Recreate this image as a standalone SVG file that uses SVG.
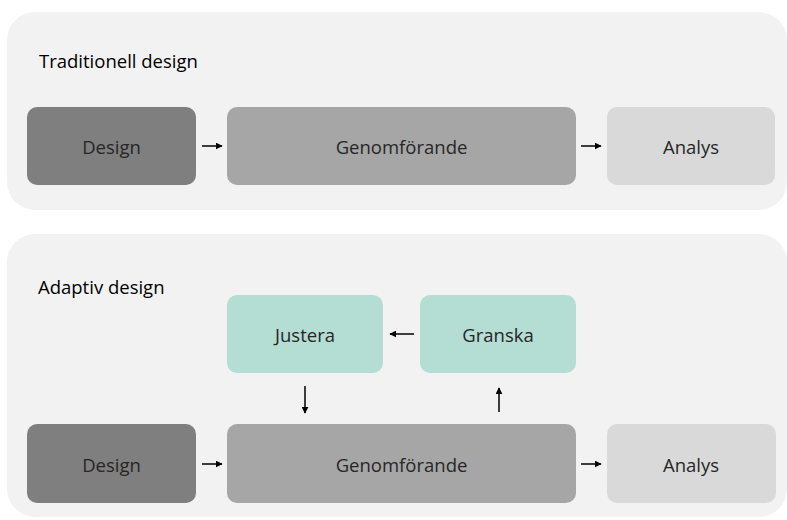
<svg xmlns="http://www.w3.org/2000/svg" width="787" height="520" viewBox="0 0 787 520">
<defs>
<style>
.panel{fill:#f2f2f2}
.t{font-family:"Open Sans","Liberation Sans",sans-serif;font-size:18.5px;fill:#262626;text-anchor:middle;dominant-baseline:central}
.h{font-family:"Open Sans","Liberation Sans",sans-serif;font-size:18.5px;fill:#000}
.d{fill:#7f7f7f}.g{fill:#a6a6a6}.a{fill:#d9d9d9}.j{fill:#b4ddd4}
.c{stroke:#000;stroke-width:1.5;fill:none;marker-end:url(#ah)}
</style>
<marker id="ah" viewBox="0 0 10 10" refX="9" refY="5" markerWidth="7" markerHeight="7" orient="auto" markerUnits="userSpaceOnUse"><path d="M0,0 L10,5 L0,10 z" fill="#000"/></marker>
</defs>
<rect class="panel" x="7" y="12" width="780" height="198" rx="28"/>
<rect class="panel" x="7" y="234" width="780" height="283" rx="28"/>
<text class="h" x="39" y="68">Traditionell design</text>
<text class="h" x="38" y="294">Adaptiv design</text>
<g id="design1"><rect class="d" x="27" y="107" width="169" height="78" rx="10"/><text class="t" x="111.5" y="146">Design</text></g>
<g id="genom1"><rect class="g" x="227" y="107" width="349" height="78" rx="10"/><text class="t" x="401.5" y="146">Genomförande</text></g>
<g id="analys1"><rect class="a" x="607" y="107" width="168" height="78" rx="10"/><text class="t" x="691" y="146">Analys</text></g>
<g id="justera"><rect class="j" x="227" y="295" width="156" height="78" rx="10"/><text class="t" x="305" y="334">Justera</text></g>
<g id="granska"><rect class="j" x="420" y="295" width="156" height="78" rx="10"/><text class="t" x="498" y="334">Granska</text></g>
<g id="design2"><rect class="d" x="27" y="424" width="169" height="79" rx="10"/><text class="t" x="111.5" y="464">Design</text></g>
<g id="genom2"><rect class="g" x="227" y="424" width="349" height="79" rx="10"/><text class="t" x="401.5" y="464">Genomförande</text></g>
<g id="analys2"><rect class="a" x="607" y="424" width="169" height="79" rx="10"/><text class="t" x="691" y="464">Analys</text></g>
<g id="connectors">
<path class="c" d="M202,146 H222"/>
<path class="c" d="M581,146 H601"/>
<path class="c" d="M202,464 H222"/>
<path class="c" d="M581,464 H601"/>
<path class="c" d="M414,334 H390"/>
<path class="c" d="M305,386 V413"/>
<path class="c" d="M499,412 V388"/>
</g>
</svg>
